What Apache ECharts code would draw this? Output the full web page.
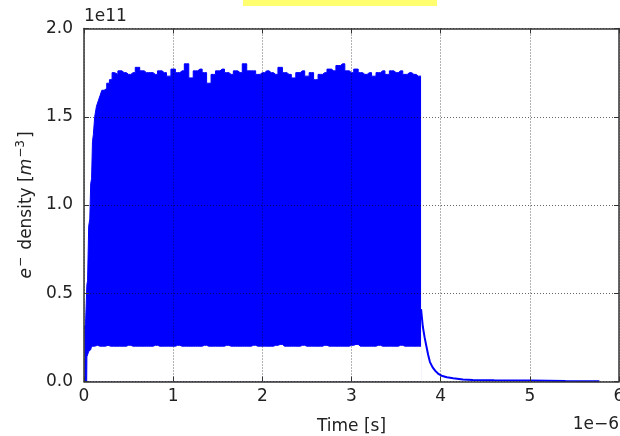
<!DOCTYPE html>
<html>
<head>
<meta charset="utf-8">
<script src="https://cdn.jsdelivr.net/npm/echarts@6/dist/echarts.min.js"></script>
<style>
html, body { margin: 0; padding: 0; background: #fff; }
#chart { width: 620px; height: 436px; }
</style>
</head>
<body>
<div id="chart"></div>
<script>
// time in units of 1e-6 s, density in units of 1e11 m^-3
// oscillating phase: upper and lower envelope of the band
var bandTime = [
    0.005, 0.03, 0.035, 0.045, 0.06, 0.07, 0.08, 0.09, 0.10, 0.11,
    0.13, 0.15, 0.17, 0.19, 0.21, 0.24, 0.27, 0.30, 0.33, 0.36,
    0.40, 0.45, 0.50, 0.55, 0.60, 0.65, 0.70, 0.75, 0.80, 0.85,
    0.90, 0.95, 1.00, 1.05, 1.10, 1.15, 1.20, 1.25, 1.30, 1.35,
    1.40, 1.45, 1.50, 1.55, 1.60, 1.65, 1.70, 1.75, 1.80, 1.85,
    1.90, 1.95, 2.00, 2.05, 2.10, 2.15, 2.20, 2.25, 2.30, 2.35,
    2.40, 2.45, 2.50, 2.55, 2.60, 2.65, 2.70, 2.75, 2.80, 2.85,
    2.90, 2.95, 3.00, 3.05, 3.10, 3.15, 3.20, 3.25, 3.30, 3.35,
    3.40, 3.45, 3.50, 3.55, 3.60, 3.65, 3.70, 3.75, 3.78
];
var bandUpper = [
    0.30, 0.33, 0.55, 0.57, 0.88, 0.92, 1.12, 1.15, 1.36, 1.40,
    1.50, 1.56, 1.59, 1.62, 1.65, 1.66, 1.69, 1.71, 1.75, 1.74,
    1.76, 1.75, 1.74, 1.75, 1.78, 1.76, 1.75, 1.75, 1.74, 1.76,
    1.75, 1.73, 1.77, 1.75, 1.76, 1.80, 1.72, 1.76, 1.77, 1.75,
    1.69, 1.74, 1.76, 1.77, 1.75, 1.74, 1.76, 1.75, 1.80, 1.76,
    1.76, 1.74, 1.75, 1.76, 1.75, 1.74, 1.78, 1.75, 1.74, 1.72,
    1.75, 1.76, 1.73, 1.75, 1.71, 1.74, 1.75, 1.77, 1.76, 1.79,
    1.80, 1.76, 1.75, 1.77, 1.75, 1.74, 1.75, 1.73, 1.75, 1.76,
    1.74, 1.76, 1.75, 1.76, 1.74, 1.75, 1.74, 1.73, 1.73
];
var bandLower = [
    0.00, 0.00, 0.14, 0.15, 0.17, 0.18, 0.19, 0.20, 0.20, 0.20,
    0.20, 0.205, 0.20, 0.20, 0.20, 0.20, 0.205, 0.20, 0.20, 0.20,
    0.20, 0.20, 0.205, 0.20, 0.20, 0.20, 0.20, 0.20, 0.205, 0.20,
    0.20, 0.20, 0.20, 0.205, 0.20, 0.20, 0.20, 0.20, 0.20, 0.205,
    0.20, 0.20, 0.20, 0.20, 0.205, 0.20, 0.20, 0.20, 0.20, 0.20,
    0.205, 0.20, 0.20, 0.20, 0.20, 0.205, 0.21, 0.20, 0.20, 0.20,
    0.20, 0.205, 0.20, 0.20, 0.20, 0.20, 0.205, 0.20, 0.20, 0.20,
    0.20, 0.20, 0.205, 0.21, 0.20, 0.20, 0.20, 0.20, 0.205, 0.20,
    0.20, 0.20, 0.20, 0.205, 0.20, 0.20, 0.20, 0.20, 0.20
];
// afterglow decay
var decayTime = [3.78, 3.80, 3.82, 3.84, 3.86, 3.88, 3.91, 3.94, 3.97, 4.01, 4.07, 4.14, 4.25, 4.36, 4.60, 5.00, 5.40, 5.78];
var decayValue = [0.41, 0.31, 0.25, 0.20, 0.15, 0.11, 0.08, 0.06, 0.045, 0.033, 0.024, 0.018, 0.012, 0.009, 0.007, 0.005, 0.003, 0.002];
var xTicks = [0, 1, 2, 3, 4, 5, 6];
var yTicks = [0.0, 0.5, 1.0, 1.5, 2.0];

var font = 'DejaVu Sans';
var textColor = '#222';
var frame = { color: '#333', width: 1.5 };
var blue = '#0000ff';

function zip(a, b) {
    return a.map(function (v, i) { return [v, b[i]]; });
}

var chart = echarts.init(document.getElementById('chart'));

var tick = { show: true, inside: true, length: 5, lineStyle: { color: '#333', width: 1 } };
// grid is drawn above the data, like in the matplotlib original
var grid = { show: true, lineStyle: { color: 'rgba(0,0,0,0.6)', width: 1, type: [1, 2] } };

var option = {
    animation: false,
    grid: { left: 84, right: 1, top: 28.5, bottom: 54.5, outerBoundsMode: 'none', containLabel: false },
    graphic: [
        { type: 'rect', shape: { x: 243, y: 0, width: 194, height: 6 }, style: { fill: '#ffff70' } },
        { type: 'text', left: 84, top: 8, style: { text: '1e11', font: '17px "DejaVu Sans"', fill: textColor } },
        { type: 'text', right: 1, top: 416, style: { text: '1e\u22126', font: '17px "DejaVu Sans"', fill: textColor } }
    ],
    xAxis: [{
        type: 'value', min: xTicks[0], max: xTicks[xTicks.length - 1], interval: 1,
        position: 'bottom', z: 5,
        axisLine: { show: true, lineStyle: frame },
        axisTick: tick,
        splitLine: grid,
        axisLabel: { fontSize: 17, fontFamily: font, color: textColor, margin: 7 },
        name: 'Time [s]', nameLocation: 'middle', nameGap: 37,
        nameTextStyle: { fontSize: 17, fontFamily: font, color: textColor }
    }, {
        type: 'value', min: xTicks[0], max: xTicks[xTicks.length - 1], interval: 1,
        position: 'top', z: 5,
        axisLine: { show: true, onZero: false, lineStyle: frame },
        axisTick: tick,
        axisLabel: { show: false },
        splitLine: { show: false }
    }],
    yAxis: [{
        type: 'value', min: yTicks[0], max: yTicks[yTicks.length - 1], interval: 0.5,
        position: 'left', z: 5,
        axisLine: { show: true, lineStyle: frame },
        axisTick: tick,
        splitLine: grid,
        axisLabel: {
            fontSize: 17, fontFamily: font, color: textColor, margin: 11,
            formatter: function (v) { return v.toFixed(1); }
        },
        name: '{i|e}{s|\u2212} {n|density [}{i|m}{s|\u22123}{n|]}',
        nameLocation: 'middle', nameGap: 40,
        nameTextStyle: {
            fontSize: 17, fontFamily: font, color: textColor,
            rich: {
                n: { fontSize: 17, fontFamily: font, color: textColor, lineHeight: 24 },
                i: { fontSize: 17, fontFamily: font, fontStyle: 'italic', color: textColor, lineHeight: 24 },
                s: { fontSize: 12, fontFamily: font, color: textColor, lineHeight: 14, verticalAlign: 'top', padding: [0, 2, 0, 1] }
            }
        }
    }, {
        type: 'value', min: yTicks[0], max: yTicks[yTicks.length - 1], interval: 0.5,
        position: 'right', z: 5,
        axisLine: { show: true, onZero: false, lineStyle: frame },
        axisTick: tick,
        axisLabel: { show: false },
        splitLine: { show: false }
    }],
    series: [{
        // upper envelope, filled down to the axis
        type: 'line', symbol: 'none', silent: true, z: 2, step: 'middle',
        data: zip(bandTime, bandUpper),
        lineStyle: { color: blue, width: 1 },
        areaStyle: { color: blue, opacity: 1, origin: 'start' }
    }, {
        // lower envelope, clears the area below the band
        type: 'line', symbol: 'none', silent: true, z: 3, step: 'middle',
        data: zip(bandTime, bandLower),
        lineStyle: { color: blue, width: 1 },
        areaStyle: { color: '#fff', opacity: 1, origin: 'start' }
    }, {
        type: 'line', symbol: 'none', silent: true, z: 4,
        data: zip(decayTime, decayValue),
        lineStyle: { color: blue, width: 2 }
    }]
};
chart.setOption(option);
</script>
</body>
</html>
